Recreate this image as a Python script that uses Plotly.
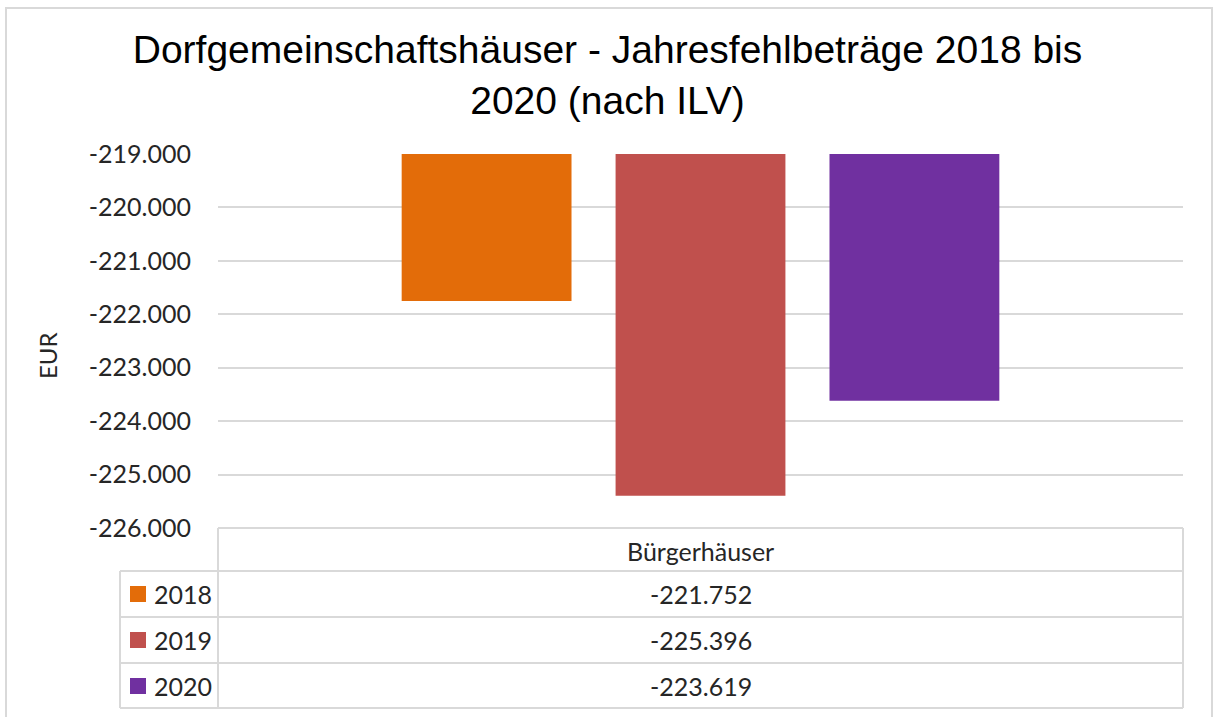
import plotly.graph_objects as go

# ---- data ----
categories = ["Bürgerhäuser"]
years = ["2018", "2019", "2020"]
values_2018 = [-221752]
values_2019 = [-225396]
values_2020 = [-223619]
series_values = [values_2018, values_2019, values_2020]
tick_values = [-219000, -220000, -221000, -222000, -223000, -224000, -225000, -226000]
title_text = "Dorfgemeinschaftshäuser - Jahresfehlbeträge 2018 bis<br>2020 (nach ILV)"
y_title = "EUR"

# ---- style ----
colors = ["#E36C09", "#C0504D", "#7030A0"]
W, H = 1215, 717
L, R, T, B = 218, 1183, 154, 528  # plot area in pixels
GRID = "#D9D9D9"
TEXT = "#262626"
FONT = "Lato"
FS = 25


def de(v):
    return f"{v:,.0f}".replace(",", ".")


def px_x(px):
    return (px - L) / (R - L)


def px_y(py):
    return (B - py) / (B - T)


fig = go.Figure()
for name, vals, col in zip(years, series_values, colors):
    fig.add_trace(go.Bar(x=categories, y=vals, name=name,
                         marker=dict(color=col, line=dict(width=0))))

shapes = []
line = dict(color=GRID, width=2)
# outer chart border
shapes.append(dict(type="rect", xref="paper", yref="paper",
                   x0=px_x(6), x1=px_x(1212), y0=px_y(730), y1=px_y(8),
                   line=dict(color=GRID, width=2), layer="below"))
# data table lines
row_lines = [571, 617, 663, 708]
for py in row_lines:
    shapes.append(dict(type="line", xref="paper", yref="paper",
                       x0=px_x(120), x1=px_x(R), y0=px_y(py), y1=px_y(py), line=line))
shapes.append(dict(type="line", xref="paper", yref="paper",
                   x0=px_x(L), x1=px_x(R), y0=px_y(B), y1=px_y(B), line=line))
shapes.append(dict(type="line", xref="paper", yref="paper",
                   x0=px_x(120), x1=px_x(120), y0=px_y(571), y1=px_y(708), line=line))
for px in (L, R):
    shapes.append(dict(type="line", xref="paper", yref="paper",
                       x0=px_x(px), x1=px_x(px), y0=px_y(B), y1=px_y(708), line=line))

annotations = []
# header
annotations.append(dict(x=categories[0], xref="x", y=px_y(551), yref="paper",
                        text=categories[0], showarrow=False,
                        xanchor="center", yanchor="middle",
                        font=dict(family=FONT, size=FS, color=TEXT)))
row_centers = [594, 640, 686]
for yr, vals, col, rc in zip(years, series_values, colors, row_centers):
    shapes.append(dict(type="rect", xref="paper", yref="paper",
                       x0=px_x(130), x1=px_x(146), y0=px_y(rc - 8), y1=px_y(rc + 8),
                       fillcolor=col, line=dict(width=0)))
    annotations.append(dict(x=px_x(152), xref="paper", y=px_y(rc), yref="paper",
                            text=yr, showarrow=False, xanchor="left", yanchor="middle",
                            font=dict(family=FONT, size=FS, color=TEXT)))
    annotations.append(dict(x=categories[0], xref="x", y=px_y(rc), yref="paper",
                            text=de(vals[0]), showarrow=False,
                            xanchor="center", yanchor="middle",
                            font=dict(family=FONT, size=FS, color=TEXT)))
# y-axis title
annotations.append(dict(x=px_x(47), xref="paper", y=px_y(356), yref="paper",
                        text=y_title, showarrow=False, textangle=-90,
                        xanchor="center", yanchor="middle",
                        font=dict(family=FONT, size=24, color=TEXT)))

fig.update_layout(
    width=W, height=H,
    margin=dict(l=L, r=W - R, t=T, b=H - B),
    paper_bgcolor="white", plot_bgcolor="white",
    title=dict(text=title_text, x=0.5, xref="container", xanchor="center",
               y=1 - 63 / H, yanchor="top", yref="container",
               font=dict(family="Liberation Sans", size=39, color="#000000")),
    barmode="group", bargap=0.335, bargroupgap=0.206,
    showlegend=False,
    xaxis=dict(showticklabels=False, showgrid=False, zeroline=False, showline=False,
               fixedrange=True),
    yaxis=dict(range=[-226000, -219000], tickvals=tick_values,
               ticktext=[de(v) for v in tick_values],
               showgrid=True, gridcolor=GRID, gridwidth=2, zeroline=False,
               showline=False, ticks="", ticklabelstandoff=26,
               tickfont=dict(family=FONT, size=FS, color=TEXT)),
    shapes=shapes, annotations=annotations,
)

fig.write_html("out.html", config={"displayModeBar": False},
               post_script="document.body.style.margin='0';")
